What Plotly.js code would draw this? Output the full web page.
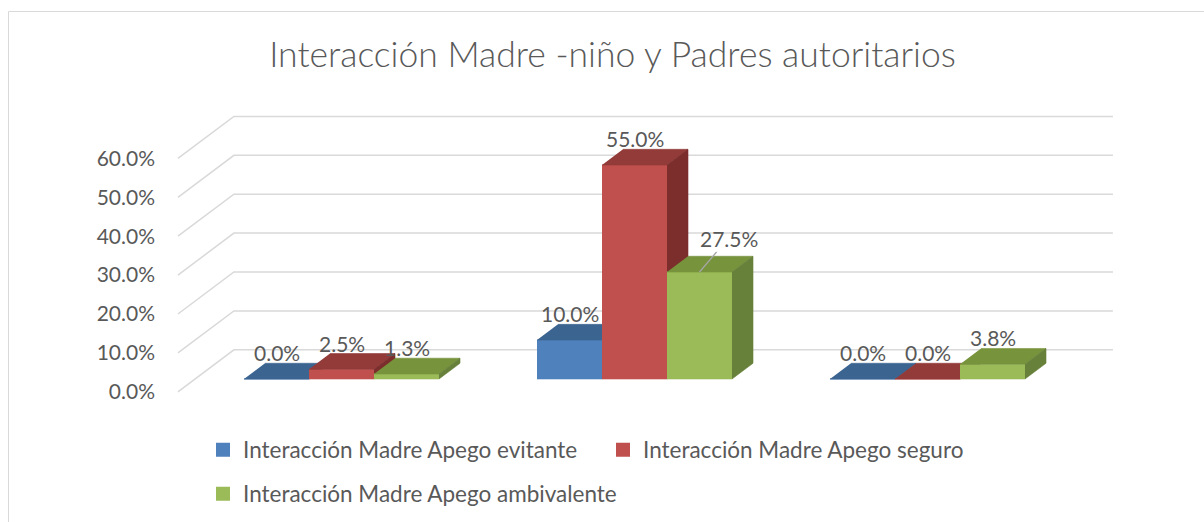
<!DOCTYPE html>
<html>
<head>
<meta charset="utf-8">
<script src="https://cdn.plot.ly/plotly-3.0.1.min.js"></script>
<style>
html,body{margin:0;padding:0;background:#ffffff;}
#chart{width:1204px;height:522px;}
</style>
</head>
<body>
<div id="chart"></div>
<script>
// ---------------- data ----------------
const categories = [0, 1, 2];
const seriesNames = [
  'Interacción Madre Apego evitante',
  'Interacción Madre Apego seguro',
  'Interacción Madre Apego ambivalente'
];
const evitante    = [0.0, 10.0, 0.0];
const seguro      = [2.5, 55.0, 0.0];
const ambivalente = [1.3, 27.5, 3.8];
const yTicks = [0, 10, 20, 30, 40, 50, 60];
const yTickText = yTicks.map(t => t.toFixed(1) + '%');
const titleText = 'Interacción Madre -niño y Padres autoritarios';

// ---------------- style / layout constants ----------------
const series = [evitante, seguro, ambivalente];
const faceColors = [
  {front:'#4F81BD', top:'#3C6491', side:'#385D8A'},
  {front:'#C0504D', top:'#923B39', side:'#7B2E2C'},
  {front:'#9BBB59', top:'#77933C', side:'#67803A'}
];
const W = 1204, H = 522;
const M = {l:170, r:84, t:100, b:122, autoexpand:false};
const PX_PER_CAT = 293, PX_PER_PCT = 3.89;
const CAT0_PX = 341.5, ZERO_PX = 379;
const XR = [(M.l - CAT0_PX)/PX_PER_CAT, (W - M.r - CAT0_PX)/PX_PER_CAT];
const YR = [-(H - M.b - ZERO_PX)/PX_PER_PCT, (ZERO_PX - M.t)/PX_PER_PCT];
const DXU = 56/PX_PER_CAT, DYU = 42/PX_PER_PCT;  // full depth in data units
const ZF = 0.305, ZB = 0.68;                    // bar front/back depth
const BW = 65/PX_PER_CAT;                       // bar width in category units
const FONT = 'Lato, "Liberation Sans", sans-serif';
const TXT = '#595959';

function P(x, y, z){ return [x + (z - ZF)*DXU, y + (z - ZF)*DYU]; }

const traces = [];

// gridlines (side wall + back wall)
const gx = [], gy = [];
yTicks.forEach(t => {
  [P(-0.5,t,0), P(-0.5,t,1), P(2.5,t,1)].forEach(p => { gx.push(p[0]); gy.push(p[1]); });
  gx.push(null); gy.push(null);
});
traces.push({type:'scatter', mode:'lines', x:gx, y:gy, line:{color:'#D9D9D9', width:1.5},
  hoverinfo:'skip', showlegend:false});

// 3D bar faces
const annotations = [];
const labelShift = {'1-2': [29, -34]};
series.forEach((vals, j) => {
  const faces = {front:{x:[],y:[]}, top:{x:[],y:[]}, side:{x:[],y:[]}};
  categories.forEach((c, i) => {
    const v = vals[i];
    const L = c - 1.5*BW + j*BW, R = L + BW;
    const polys = {
      front: [P(L,0,ZF), P(R,0,ZF), P(R,v,ZF), P(L,v,ZF)],
      top:   [P(L,v,ZF), P(R,v,ZF), P(R,v,ZB), P(L,v,ZB)],
      side:  [P(R,0,ZF), P(R,0,ZB), P(R,v,ZB), P(R,v,ZF)]
    };
    Object.keys(polys).forEach(k => {
      polys[k].forEach(p => { faces[k].x.push(p[0]); faces[k].y.push(p[1]); });
      faces[k].x.push(null); faces[k].y.push(null);
    });
    const key = i + '-' + j;
    const cx = L + BW/2;
    if (labelShift[key]) {
      annotations.push({x:cx, y:v, xref:'x', yref:'y', text:v.toFixed(1)+'%',
        showarrow:true, arrowhead:0, arrowwidth:1.3, arrowcolor:'#A6A6A6',
        ax:labelShift[key][0], ay:labelShift[key][1],
        font:{family:FONT, size:21, color:TXT}});
    } else {
      annotations.push({x:cx, y:v + (ZB-ZF)*DYU, xref:'x', yref:'y', text:v.toFixed(1)+'%',
        showarrow:false, yanchor:'bottom', yshift:-4,
        font:{family:FONT, size:21, color:TXT}});
    }
  });
  ['front','top','side'].forEach(k => {
    traces.push({type:'scatter', mode:'lines', x:faces[k].x, y:faces[k].y,
      fill:'toself', fillcolor:faceColors[j][k],
      line:{color:faceColors[j][k], width:0.6},
      hoverinfo:'skip', showlegend:false});
  });
});

// legend entries
series.forEach((vals, j) => {
  traces.push({type:'scatter', mode:'markers', x:[null], y:[null], yaxis:'y2',
    name:seriesNames[j], legend: j < 2 ? 'legend' : 'legend2',
    marker:{symbol:'square', size:14, color:faceColors[j].front},
    hoverinfo:'skip', showlegend:true});
});

const PW = W - M.l - M.r, PH = H - M.t - M.b;
const layout = {
  width:W, height:H,
  margin:M,
  paper_bgcolor:'#ffffff', plot_bgcolor:'rgba(0,0,0,0)',
  font:{family:FONT, color:TXT},
  title:{text:titleText, xref:'container', yref:'container', x:612.5/W, y:1-55/H,
    xanchor:'center', yanchor:'middle', font:{family:FONT, size:35.5, color:TXT, weight:300}},
  xaxis:{range:XR, showgrid:false, zeroline:false, showline:false, showticklabels:false, ticks:'', fixedrange:true},
  yaxis:{range:YR, showgrid:false, zeroline:false, showline:false, showticklabels:false, ticks:'', fixedrange:true},
  yaxis2:{range:[YR[0] + ZF*DYU, YR[1] + ZF*DYU], overlaying:'y', side:'left', anchor:'x',
    tickmode:'array', tickvals:yTicks, ticktext:yTickText, showgrid:false, zeroline:false, showline:false,
    ticks:'', ticklabelstandoff:14, tickfont:{family:FONT, size:21, color:TXT, weight:400}, fixedrange:true},
  showlegend:true,
  legend:{orientation:'h', x:(203-M.l)/PW, xanchor:'left', y:1-(450-M.t)/PH, yanchor:'middle',
    entrywidth:355, entrywidthmode:'pixels', font:{family:FONT, size:22.5, color:TXT}, bgcolor:'rgba(0,0,0,0)'},
  legend2:{orientation:'h', x:(203-M.l)/PW, xanchor:'left', y:1-(494-M.t)/PH, yanchor:'middle',
    font:{family:FONT, size:22.5, color:TXT}, bgcolor:'rgba(0,0,0,0)'},
  shapes:[{type:'rect', xref:'paper', yref:'paper',
    x0:(8.5-M.l)/PW, x1:1.5, y0:1-(11.5-M.t)/PH, y1:-2,
    line:{color:'#D9D9D9', width:1}, fillcolor:'rgba(0,0,0,0)', layer:'below'}],
  annotations:annotations
};

Plotly.newPlot('chart', traces, layout, {displayModeBar:false, staticPlot:true});
</script>
</body>
</html>
